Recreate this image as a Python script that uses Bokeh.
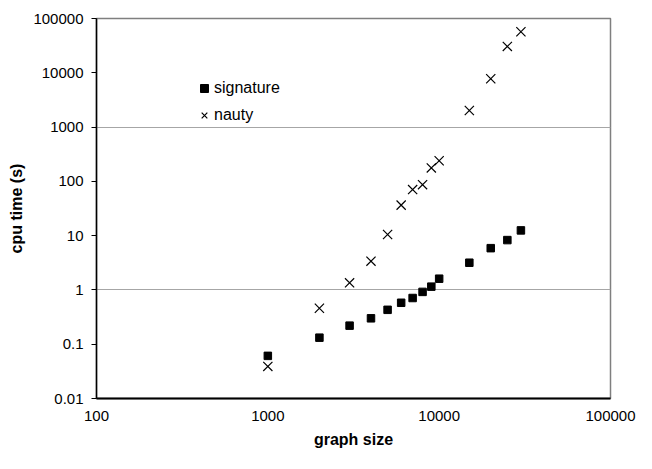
from bokeh.plotting import figure
from bokeh.models import (FixedTicker, CustomJSTickFormatter, Legend, LegendItem,
                          Range1d)
from bokeh.embed import file_html
from bokeh.resources import INLINE

# ---- data ----
graph_size = [1000, 2000, 3000, 4000, 5000, 6000, 7000, 8000, 9000, 10000,
              15000, 20000, 25000, 30000]
signature_time = [0.061, 0.132, 0.22, 0.30, 0.43, 0.58, 0.71, 0.92, 1.15, 1.61,
                  3.17, 5.88, 8.28, 12.5]
nauty_time = [0.039, 0.46, 1.35, 3.39, 10.5, 36.5, 70.6, 86.8, 177, 240,
              2017, 7762, 30600, 56900]

x_ticks = [100, 1000, 10000, 100000]
y_ticks = [0.01, 0.1, 1, 10, 100, 1000, 10000, 100000]
y_grid_values = [1, 1000]

FONT = "Liberation Sans"

p = figure(width=636, height=453, x_axis_type="log", y_axis_type="log",
           x_range=Range1d(100, 100000), y_range=Range1d(0.01, 100000),
           output_backend="svg", toolbar_location=None,
           min_border_left=96, min_border_right=26,
           min_border_top=18, min_border_bottom=55,
           background_fill_color="white", border_fill_color="white")

p.outline_line_color = "#7f7f7f"
p.outline_line_width = 1.5

fmt = CustomJSTickFormatter(code="return String(Number(tick.toPrecision(6)));")

# x axis
xa = p.xaxis[0]
xa.ticker = FixedTicker(ticks=x_ticks, minor_ticks=[])
xa.formatter = fmt
xa.axis_line_color = "black"
xa.axis_line_width = 2
xa.major_tick_out = 0
xa.major_tick_in = 0
xa.minor_tick_out = 0
xa.minor_tick_in = 0
xa.major_label_standoff = 12
xa.major_label_text_font = FONT
xa.major_label_text_font_size = "15px"
xa.major_label_text_color = "black"
xa.axis_label = "graph size"
xa.axis_label_text_font = FONT
xa.axis_label_text_font_style = "bold"
xa.axis_label_text_font_size = "16px"
xa.axis_label_text_color = "black"
xa.axis_label_standoff = 7

# y axis
ya = p.yaxis[0]
ya.ticker = FixedTicker(ticks=y_ticks, minor_ticks=[])
ya.formatter = fmt
ya.axis_line_color = "black"
ya.axis_line_width = 1.5
ya.major_tick_out = 5
ya.major_tick_in = 0
ya.major_tick_line_color = "black"
ya.minor_tick_out = 0
ya.minor_tick_in = 0
ya.major_label_standoff = 8
ya.major_label_text_font = FONT
ya.major_label_text_font_size = "15px"
ya.major_label_text_color = "black"
ya.axis_label = "cpu time (s)"
ya.axis_label_text_font = FONT
ya.axis_label_text_font_style = "bold"
ya.axis_label_text_font_size = "16px"
ya.axis_label_text_color = "black"
ya.axis_label_standoff = 5

# grid
p.xgrid.visible = False
p.ygrid.ticker = FixedTicker(ticks=y_grid_values, minor_ticks=[])
p.ygrid.grid_line_color = "#a6a6a6"
p.ygrid.grid_line_width = 1

# data
r_sig = p.scatter(graph_size, signature_time, marker="square", size=7.5,
                  fill_color="black", line_color="black")
r_nau = p.scatter(graph_size, nauty_time, marker="x", size=13,
                  line_color="black", line_width=1.2)

legend = Legend(items=[LegendItem(label="signature", renderers=[r_sig]),
                       LegendItem(label="nauty", renderers=[r_nau])],
                location=(98, 273), orientation="vertical",
                glyph_width=20, glyph_height=20, spacing=7,
                label_standoff=0, padding=0, margin=0,
                border_line_color=None, background_fill_alpha=0,
                label_text_font=FONT, label_text_font_size="16px",
                label_text_color="black", label_height=20)
p.add_layout(legend)

open("out.html", "w").write(file_html(p, INLINE))
